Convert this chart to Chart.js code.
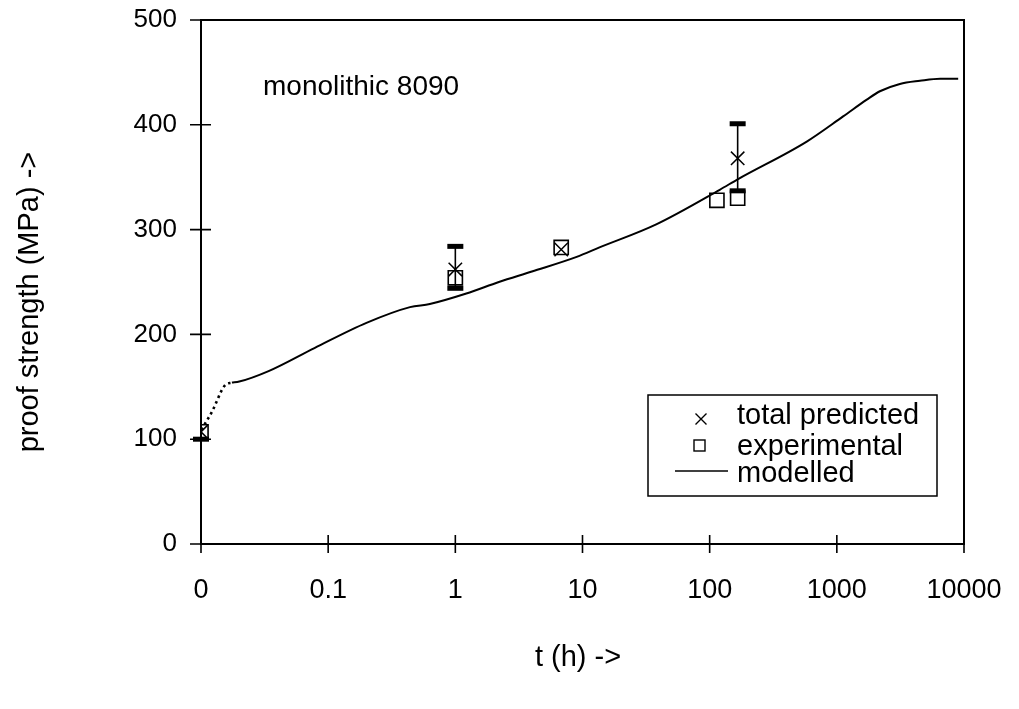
<!DOCTYPE html>
<html><head><meta charset="utf-8">
<script src="https://cdn.jsdelivr.net/npm/chart.js@4.4.1/dist/chart.umd.min.js"></script>
<style>html,body{margin:0;padding:0;background:#fff;}#wrap{width:1019px;height:709px;}</style>
</head><body><div id="wrap"><canvas id="c" width="1019" height="709"></canvas></div>
<script>
// ---- data ----
const xTickValues = [0.01, 0.1, 1, 10, 100, 1000, 10000];
const xTickLabels = ['0', '0.1', '1', '10', '100', '1000', '10000'];
const yTickValues = [0, 100, 200, 300, 400, 500];

const expT = [0.01, 1, 6.8, 114, 166];
const expV = [107, 254, 283, 328, 330];

const predT = [0.01, 1, 6.8, 166];
const predV = [107, 262, 281, 368];
const predLo = [100, 244, null, 337];
const predHi = [null, 284, null, 401];

const modelT = [0.0175, 0.02, 0.034, 0.078, 0.2, 0.44, 0.63, 1.22, 2.2, 4.0, 9.0, 13.6, 38, 120, 166, 580, 1120, 1720, 2180, 3130, 4500, 6500, 9000];
const modelV = [154, 155, 165, 187, 211, 226, 229, 239, 250, 260, 274, 283, 305, 338, 348, 384, 408, 424, 432, 439, 442, 444, 444];

const dotT = [0.0101, 0.0109, 0.0123, 0.0135, 0.0143, 0.0156, 0.0175];
const dotV = [109, 116, 127, 138, 145, 152, 154];

const titleText = 'monolithic 8090';
const xTitle = 't (h) ->';
const yTitle = 'proof strength (MPa) ->';
const legendLabels = ['total predicted', 'experimental', 'modelled'];

const zip = (a, b) => a.map((v, i) => ({x: v, y: b[i]}));
const FONT = "'Liberation Sans', Arial, sans-serif";

const decor = {
  id: 'decor',
  afterDatasetsDraw(chart) {
    const ctx = chart.ctx;
    const xs = chart.scales.x, ys = chart.scales.y;
    const a = chart.chartArea;
    ctx.save();
    // error bars
    ctx.strokeStyle = '#000'; ctx.fillStyle = '#000';
    predT.forEach((t, i) => {
      const px = xs.getPixelForValue(t);
      const lo = predLo[i], hi = predHi[i];
      if (lo != null && hi != null) {
        ctx.lineWidth = 1.6;
        ctx.beginPath();
        ctx.moveTo(px, ys.getPixelForValue(lo));
        ctx.lineTo(px, ys.getPixelForValue(hi));
        ctx.stroke();
      }
      [lo, hi].forEach(v => {
        if (v == null) return;
        const py = ys.getPixelForValue(v);
        ctx.fillRect(px - 8, py - 2.5, 16, 5);
      });
    });
    // frame
    ctx.lineWidth = 2;
    ctx.strokeStyle = '#000';
    ctx.strokeRect(a.left, a.top, a.right - a.left, a.bottom - a.top);
    // ticks
    ctx.lineWidth = 1.6;
    ctx.beginPath();
    yTickValues.forEach(v => {
      const py = ys.getPixelForValue(v);
      ctx.moveTo(a.left - 11, py); ctx.lineTo(a.left + 10, py);
    });
    xTickValues.forEach(v => {
      const px = xs.getPixelForValue(v);
      ctx.moveTo(px, a.bottom - 9); ctx.lineTo(px, a.bottom + 9);
    });
    ctx.stroke();
    // annotation
    ctx.font = '28px ' + FONT;
    ctx.textAlign = 'left'; ctx.textBaseline = 'alphabetic';
    ctx.fillText(titleText, 263, 95);
    // legend box
    ctx.lineWidth = 1.5;
    ctx.strokeRect(648, 395, 289, 101);
    // legend symbols
    ctx.lineWidth = 1.4;
    ctx.beginPath();
    ctx.moveTo(695.5, 413.5); ctx.lineTo(706.5, 424.5);
    ctx.moveTo(706.5, 413.5); ctx.lineTo(695.5, 424.5);
    ctx.stroke();
    ctx.strokeRect(694, 440, 11, 11);
    ctx.lineWidth = 1.6;
    ctx.beginPath(); ctx.moveTo(675, 471); ctx.lineTo(728, 471); ctx.stroke();
    ctx.font = '29px ' + FONT;
    ctx.fillText(legendLabels[0], 737, 424);
    ctx.fillText(legendLabels[1], 737, 455);
    ctx.fillText(legendLabels[2], 737, 482);
    // axis titles
    ctx.textAlign = 'center'; ctx.textBaseline = 'middle';
    ctx.fillText(xTitle, 578, 658);
    ctx.translate(30, 302);
    ctx.rotate(-Math.PI / 2);
    ctx.fillText(yTitle, 0, 0);
    ctx.restore();
  }
};

Chart.defaults.color = '#000';
Chart.defaults.font.family = FONT;

new Chart(document.getElementById('c'), {
  type: 'scatter',
  data: {
    datasets: [
      {label: 'modelled', data: zip(modelT, modelV), showLine: true, borderColor: '#000', borderWidth: 2, pointRadius: 0, cubicInterpolationMode: 'monotone', fill: false},
      {label: 'modelled-dotted', data: zip(dotT, dotV), showLine: true, borderColor: '#000', borderWidth: 2.6, borderDash: [2.5, 3.5], pointRadius: 0, cubicInterpolationMode: 'monotone', fill: false},
      {label: 'experimental', data: zip(expT, expV), showLine: false, pointStyle: 'rect', pointRadius: 10, borderColor: '#000', borderWidth: 1.6, backgroundColor: 'rgba(0,0,0,0)'},
      {label: 'total predicted', data: zip(predT, predV), showLine: false, pointStyle: 'crossRot', pointRadius: 9.5, borderColor: '#000', borderWidth: 1.5, backgroundColor: 'rgba(0,0,0,0)'}
    ]
  },
  options: {
    responsive: false,
    animation: false,
    devicePixelRatio: 1,
    layout: {padding: {left: 0, right: 55, top: 20, bottom: 0}},
    plugins: {legend: {display: false}, tooltip: {enabled: false}},
    scales: {
      x: {
        type: 'logarithmic', min: 0.01, max: 10000,
        grid: {display: false, drawTicks: false}, border: {display: false},
        afterBuildTicks: s => { s.ticks = xTickValues.map(v => ({value: v})); },
        afterFit: s => { s.height = 165; s.paddingLeft = 0; s.paddingRight = 0; },
        ticks: {autoSkip: false, maxRotation: 0, padding: 30, font: {size: 27}, callback: (v, i) => xTickLabels[i]}
      },
      y: {
        type: 'linear', min: 0, max: 500,
        grid: {display: false, drawTicks: false}, border: {display: false},
        afterBuildTicks: s => { s.ticks = yTickValues.map(v => ({value: v})); },
        afterFit: s => { s.width = 201; s.paddingTop = 0; s.paddingBottom = 0; },
        ticks: {padding: 24, font: {size: 26}, callback: v => String(v)}
      }
    }
  },
  plugins: [decor]
});
</script>
</body></html>
